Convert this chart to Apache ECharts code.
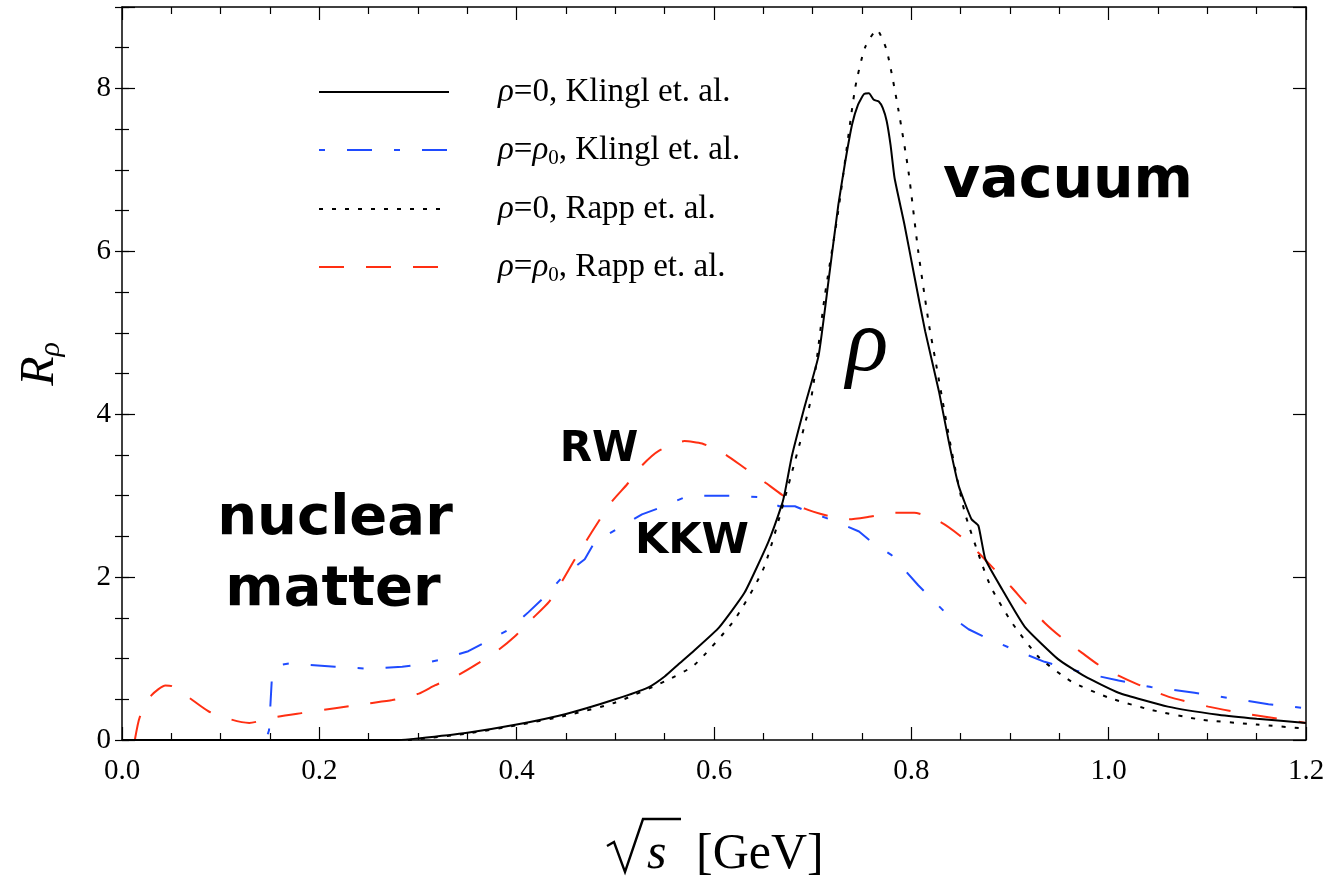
<!DOCTYPE html>
<html>
<head>
<meta charset="utf-8">
<script src="https://cdn.jsdelivr.net/npm/echarts@6/dist/echarts.min.js"></script>
<style>
  html, body { margin: 0; padding: 0; background: #fff; }
  #main { width: 1328px; height: 877px; }
</style>
</head>
<body>
<div id="main"></div>
<script>
// ---- data ----
const xTickLabels = ['0.0', '0.2', '0.4', '0.6', '0.8', '1.0', '1.2'];
const yTickLabels = ['0', '2', '4', '6', '8'];

const seriesNames = [
  'ρ=0, Klingl et. al.',
  'ρ=ρ0, Klingl et. al.',
  'ρ=0, Rapp et. al.',
  'ρ=ρ0, Rapp et. al.'
];

// rho = 0, Klingl et al. (solid black)
const klinglVacX = [0, 0.28, 0.30, 0.35, 0.40, 0.45, 0.50, 0.534, 0.55, 0.564, 0.58, 0.605, 0.631, 0.655, 0.669, 0.672, 0.679, 0.692, 0.706, 0.716, 0.726, 0.733, 0.740, 0.746, 0.752, 0.757, 0.762, 0.767, 0.771, 0.775, 0.779, 0.783, 0.793, 0.803, 0.814, 0.828, 0.838, 0.848, 0.861, 0.868, 0.875, 0.892, 0.915, 0.949, 0.976, 1.01, 1.06, 1.111, 1.15, 1.2];
const klinglVacY = [0, 0, 0.02, 0.09, 0.19, 0.32, 0.50, 0.65, 0.78, 0.93, 1.1, 1.38, 1.81, 2.43, 2.9, 3.05, 3.49, 4.1, 4.72, 5.63, 6.57, 7.1, 7.56, 7.8, 7.93, 7.94, 7.86, 7.84, 7.76, 7.6, 7.3, 6.9, 6.33, 5.7, 5.02, 4.28, 3.66, 3.12, 2.71, 2.63, 2.22, 1.85, 1.39, 0.99, 0.78, 0.58, 0.41, 0.31, 0.26, 0.21];

// rho = rho0, Klingl et al. (blue dash-dot)
const klinglMedX = [0, 0.146, 0.149, 0.152, 0.16, 0.17, 0.216, 0.25, 0.284, 0.297, 0.324, 0.351, 0.368, 0.393, 0.412, 0.426, 0.447, 0.469, 0.479, 0.503, 0.527, 0.547, 0.574, 0.60, 0.621, 0.648, 0.666, 0.682, 0.692, 0.722, 0.747, 0.76, 0.78, 0.807, 0.834, 0.858, 0.875, 0.902, 0.935, 0.976, 1.01, 1.043, 1.087, 1.162, 1.2];
const klinglMedY = [0, 0, 0.12, 0.78, 0.92, 0.94, 0.9, 0.875, 0.9, 0.92, 0.99, 1.09, 1.2, 1.36, 1.57, 1.73, 2.01, 2.22, 2.43, 2.60, 2.77, 2.86, 3.0, 3.0, 3.0, 2.98, 2.87, 2.87, 2.82, 2.69, 2.56, 2.43, 2.27, 1.9, 1.57, 1.36, 1.26, 1.12, 0.96, 0.82, 0.73, 0.65, 0.58, 0.44, 0.39];

// rho = 0, Rapp et al. (dotted black)
const rappVacX = [0, 0.29, 0.30, 0.35, 0.40, 0.45, 0.50, 0.55, 0.58, 0.621, 0.651, 0.682, 0.699, 0.712, 0.726, 0.743, 0.753, 0.765, 0.775, 0.787, 0.797, 0.807, 0.818, 0.824, 0.841, 0.854, 0.871, 0.881, 0.902, 0.929, 0.962, 1.0, 1.043, 1.094, 1.15, 1.2];
const rappVacY = [0, 0, 0.01, 0.08, 0.18, 0.30, 0.46, 0.72, 0.92, 1.48, 2.13, 3.42, 4.23, 5.43, 6.5, 8.0, 8.5, 8.72, 8.47, 7.73, 6.99, 6.0, 5.09, 4.69, 3.54, 2.80, 2.18, 1.87, 1.44, 1.02, 0.72, 0.52, 0.37, 0.25, 0.19, 0.14];

// rho = rho0, Rapp et al. (red dashed)
const rappMedX = [0.013, 0.018, 0.03, 0.044, 0.051, 0.068, 0.088, 0.111, 0.129, 0.155, 0.182, 0.216, 0.25, 0.274, 0.301, 0.317, 0.341, 0.362, 0.382, 0.398, 0.415, 0.433, 0.446, 0.459, 0.476, 0.496, 0.512, 0.527, 0.544, 0.57, 0.588, 0.611, 0.631, 0.651, 0.669, 0.692, 0.716, 0.737, 0.757, 0.783, 0.803, 0.829, 0.848, 0.868, 0.883, 0.902, 0.915, 0.935, 0.952, 0.973, 0.99, 1.01, 1.03, 1.061, 1.101, 1.145, 1.2];
const rappMedY = [0, 0.28, 0.55, 0.67, 0.66, 0.52, 0.35, 0.25, 0.21, 0.28, 0.33, 0.39, 0.45, 0.49, 0.57, 0.67, 0.8, 0.95, 1.11, 1.27, 1.48, 1.7, 1.95, 2.22, 2.55, 2.92, 3.14, 3.37, 3.55, 3.67, 3.64, 3.51, 3.34, 3.17, 3.01, 2.84, 2.75, 2.71, 2.74, 2.79, 2.79, 2.68, 2.52, 2.3, 2.11, 1.87, 1.69, 1.44, 1.26, 1.07, 0.92, 0.79, 0.68, 0.53, 0.41, 0.31, 0.21];

// ---- build ----
function pairs(xs, ys) { return xs.map((x, i) => [x, ys[i]]); }

const SERIF = '"Liberation Serif", "DejaVu Serif", serif';
const BOLD = '"DejaVu Sans", sans-serif';
const BLUE = '#1f4bff';
const RED = '#ff2f12';

const chart = echarts.init(document.getElementById('main'), null, { renderer: 'canvas' });

const tickCommon = (len) => ({ show: true, inside: true, length: len, lineStyle: { color: '#000', width: 1.2 } });
const xMajor = { type: 'value', min: 0, max: 1.2, interval: 0.2, splitLine: { show: false } };

const LF = 33;
const legendRich = {
  i: { fontFamily: SERIF, fontStyle: 'italic', fontSize: LF, color: '#000' },
  t: { fontFamily: SERIF, fontSize: LF, color: '#000' },
  sub: { fontFamily: SERIF, fontSize: 21, color: '#000', padding: [17, 0, 0, 0] }
};
const legendFmt = {
  [seriesNames[0]]: '{i|ρ}{t|=0, Klingl et. al.}',
  [seriesNames[1]]: '{i|ρ}{t|=}{i|ρ}{sub|0}{t|, Klingl et. al.}',
  [seriesNames[2]]: '{i|ρ}{t|=0, Rapp et. al.}',
  [seriesNames[3]]: '{i|ρ}{t|=}{i|ρ}{sub|0}{t|, Rapp et. al.}'
};

const txt = (x, y, text, font, align) => ({
  type: 'text', x: x, y: y,
  style: { text: text, font: font, fill: '#000', align: align || 'center', verticalAlign: 'middle', textAlign: align || 'center', textVerticalAlign: 'middle' }
});

const option = {
  animation: false,
  backgroundColor: '#fff',
  grid: { left: 122, right: 22, top: 7, bottom: 137, containLabel: false },
  legend: {
    orient: 'vertical',
    left: 318,
    top: 74,
    padding: 0,
    itemWidth: 130,
    itemHeight: 20,
    itemGap: 22,
    data: seriesNames,
    formatter: (name) => legendFmt[name],
    itemStyle: { opacity: 0 },
    textStyle: { fontFamily: SERIF, fontSize: LF, color: '#000', lineHeight: 36, padding: [0, 0, 0, 44], rich: legendRich },
    selectedMode: false
  },
  xAxis: [
    Object.assign({}, xMajor, {
      position: 'bottom',
      axisLine: { show: true, onZero: false, lineStyle: { color: '#000', width: 1.5 } },
      axisTick: tickCommon(13),
      minorTick: { show: true, splitNumber: 4, length: 7, lineStyle: { color: '#000', width: 1.2 } },
      axisLabel: {
        margin: 17, fontFamily: SERIF, fontSize: 29, color: '#000',
        formatter: (v) => xTickLabels[Math.round(v / 0.2)] || ''
      }
    }),
    Object.assign({}, xMajor, {
      position: 'top',
      axisLine: { show: true, onZero: false, lineStyle: { color: '#000', width: 1.5 } },
      axisTick: tickCommon(13),
      minorTick: { show: true, splitNumber: 4, length: 7, lineStyle: { color: '#000', width: 1.2 } },
      axisLabel: { show: false }
    })
  ],
  yAxis: [
    {
      type: 'value', min: 0, max: 9, interval: 2, position: 'left',
      splitLine: { show: false },
      axisLine: { show: true, onZero: false, lineStyle: { color: '#000', width: 1.5 } },
      axisTick: tickCommon(13),
      axisLabel: {
        margin: 11, fontFamily: SERIF, fontSize: 29, color: '#000',
        formatter: (v) => (v % 2 === 0 && v <= 8) ? yTickLabels[v / 2] : ''
      }
    },
    {
      type: 'value', min: 0, max: 9, interval: 0.5, position: 'left', offset: 0,
      splitLine: { show: false },
      axisLine: { show: false },
      axisTick: tickCommon(7),
      axisLabel: { show: false }
    },
    {
      type: 'value', min: 0, max: 9, interval: 2, position: 'right', offset: 0,
      splitLine: { show: false },
      axisLine: { show: true, onZero: false, lineStyle: { color: '#000', width: 1.5 } },
      axisTick: tickCommon(13),
      axisLabel: { show: false }
    },
    {
      type: 'value', min: 0, max: 9, interval: 0.5, position: 'right', offset: 0,
      splitLine: { show: false },
      axisLine: { show: false },
      axisTick: tickCommon(7),
      axisLabel: { show: false }
    }
  ],
  series: [
    {
      name: seriesNames[1], type: 'line', data: pairs(klinglMedX, klinglMedY),
      showSymbol: false, symbol: 'none', clip: true,
      lineStyle: { color: BLUE, width: 2, type: [6, 22, 25, 22] }, itemStyle: { color: BLUE }
    },
    {
      name: seriesNames[3], type: 'line', data: pairs(rappMedX, rappMedY),
      showSymbol: false, symbol: 'none', smooth: 0.2, clip: true,
      lineStyle: { color: RED, width: 2, type: [25, 22] }, itemStyle: { color: RED }
    },
    {
      name: seriesNames[2], type: 'line', data: pairs(rappVacX, rappVacY),
      showSymbol: false, symbol: 'none', smooth: 0.2, clip: true,
      lineStyle: { color: '#000', width: 2, type: [4, 9] }, itemStyle: { color: '#000' }
    },
    {
      name: seriesNames[0], type: 'line', data: pairs(klinglVacX, klinglVacY),
      showSymbol: false, symbol: 'none', smooth: 0.15, clip: true,
      lineStyle: { color: '#000', width: 2, type: 'solid' }, itemStyle: { color: '#000' }
    }
  ],
  graphic: [
    txt(1068, 182, 'vacuum', 'bold 57px ' + BOLD),
    txt(335, 519, 'nuclear', 'bold 56px ' + BOLD),
    txt(333, 590, 'matter', 'bold 56px ' + BOLD),
    txt(599, 450, 'RW', 'bold 42px ' + BOLD),
    txt(692, 542, 'KKW', 'bold 43px ' + BOLD),
    txt(867, 347, 'ρ', 'italic 88px ' + SERIF),
    // y axis title R_rho
    { type: 'text', x: 40, y: 364, rotation: Math.PI / 2,
      style: { text: '{r|R}{s|ρ}', align: 'center', verticalAlign: 'middle', textAlign: 'center', textVerticalAlign: 'middle',
        rich: { r: { font: 'italic 48px ' + SERIF, color: '#000' }, s: { font: 'italic 30px ' + SERIF, color: '#000', padding: [22, 0, 0, 0] } } } },
    // x axis title sqrt(s) [GeV] — radical sign drawn as a stroke
    { type: 'polyline', shape: { points: [[607, 846], [614, 842], [625, 872], [643, 819], [681, 819]] },
      style: { stroke: '#000', lineWidth: 2.4, fill: null, lineJoin: 'miter' } },
    txt(647, 855, 's', 'italic 50px ' + SERIF, 'left'),
    txt(696, 855, '[GeV]', '50px ' + SERIF, 'left')
  ]
};

chart.setOption(option);
</script>
</body>
</html>
